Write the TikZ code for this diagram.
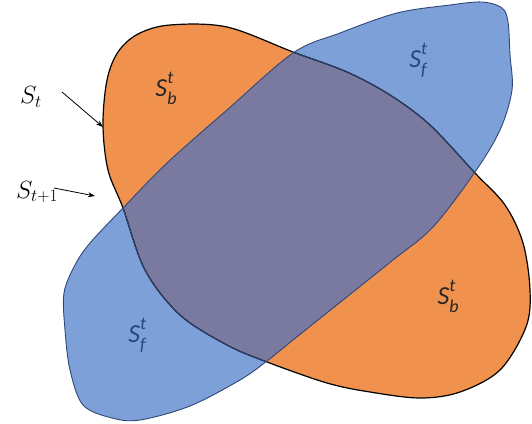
\documentclass[tikz,border=0pt]{standalone}
\usepackage{fontspec}
\newfontfamily\carl{Carlito}
\usetikzlibrary{arrows.meta}
\definecolor{orangec}{RGB}{240,146,78}
\definecolor{bluec}{RGB}{125,160,216}
\definecolor{purplec}{RGB}{122,121,160}
\definecolor{blueline}{RGB}{47,72,120}
\definecolor{labblue}{RGB}{40,70,130}
\newcommand\lbl[3]{{\carl\itshape #1\rlap{\raisebox{0.5em}{\fontsize{18}{18}\selectfont #2}}\raisebox{-0.3em}{\fontsize{18}{18}\selectfont #3}}}
\tikzset{
  inlabel/.style={font=\fontsize{26}{26}\selectfont, inner sep=0pt},
  outlabel/.style={font=\fontsize{24}{24}\selectfont, inner sep=0pt},
  arr/.style={-{Stealth[length=7pt,width=5pt]}, line width=0.8pt, black}
}
\begin{document}
\begin{tikzpicture}[x=1pt,y=-1pt]
\useasboundingbox (0,0) rectangle (532,423);
\def\orangepath{plot[smooth cycle, tension=0.55] coordinates {
 (138,34) (170,25) (227,27) (293,52) (347,72) (390,95) (430,125) (475,173)
 (505,205) (523,243) (530,290) (526,327) (500,370) (460,392) (420,398) (370,392) (327,383) (267,362)
 (227,345) (180,315) (145,270) (123,208) (108,170) (103,125) (107,80) (118,52)}}
\def\bluepath{plot[smooth cycle, tension=0.55] coordinates {
 (123,208) (167,163) (227,110) (293,53) (340,33) (397,13) (450,5) (482,2) (502,8) (508,22)
 (510,55) (512,90) (500,130) (475,172) (433,227) (393,260) (343,300) (293,340) (267,361)
 (240,380) (190,406) (140,420) (112,418) (83,405) (70,370) (65,330) (64,293) (75,265) (90,243)}}
\fill[orangec] \orangepath;
\fill[bluec] \bluepath;
\begin{scope}
 \clip \bluepath;
 \fill[purplec] \orangepath;
\end{scope}
\draw[black, line width=1.2pt] \orangepath;
\draw[blueline, line width=0.9pt] \bluepath;
\begin{scope}
 \clip \bluepath;
 \draw[blueline, line width=0.9pt] \orangepath;
\end{scope}
% labels
\node[outlabel] (st) at (31,97) {$S_t$};
\node[outlabel] (st1) at (37,192) {$S_{t+1}$};
\coordinate (a1s) at (62,92);
\coordinate (a1e) at (103,127);
\coordinate (a2s) at (54,188);
\coordinate (a2e) at (95,196);
\draw[arr] (a1s) -- (a1e);
\draw[arr] (a2s) -- (a2e);
\node[inlabel, text=black!85] (sb1) at (166,88) {\lbl{S}{t}{b}};
\node[inlabel, text=black!85] (sb2) at (448,296) {\lbl{S}{t}{b}};
\node[inlabel, text=labblue] (sf1) at (418,60) {\lbl{S}{t}{f}};
\node[inlabel, text=labblue] (sf2) at (137,335) {\lbl{S}{t}{f}};
\end{tikzpicture}
\end{document}
